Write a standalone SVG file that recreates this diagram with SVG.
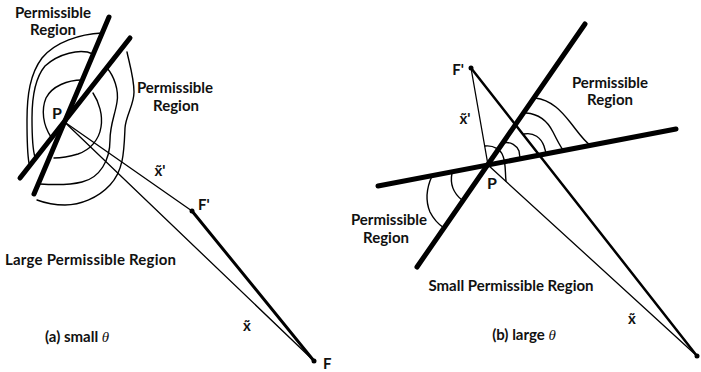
<svg xmlns="http://www.w3.org/2000/svg" width="701" height="372" viewBox="0 0 701 372">
<style>
.thick{stroke:#000;stroke-width:5;stroke-linecap:round;fill:none}
.med{stroke:#000;stroke-width:3;stroke-linecap:round;fill:none}
.thin{stroke:#000;stroke-width:1.3;stroke-linecap:round;fill:none}
.ct{stroke:#000;stroke-width:1.4;fill:none;stroke-linecap:round}
text{font-family:Lato,"Liberation Sans",sans-serif;font-size:15px;font-weight:700;fill:#111}
.c{text-anchor:middle}
.it{font-style:italic;font-family:"Liberation Serif",serif;font-weight:400}
</style>
<rect width="701" height="372" fill="#fff"/>
<g id="panel-a">
  <g id="contours-a">
    <path class="ct" d="M102,33 C80,34 55,42 42,58 C30,74 27,95 27,120 C27,140 27,152 29,163"/>
    <path class="ct" d="M93,54 C80,48 58,54 45,66 C35,78 32,95 32,118 C32,135 32,148 35,157"/>
    <path class="ct" d="M82,80 C68,80 52,86 46,98 C41,110 43,125 51,137"/>
    <path class="ct" d="M93,93 C99,102 103,115 101,127 C99,140 90,150 78,154 C68,157 60,158 54,158"/>
    <path class="ct" d="M107,68 C114,76 119,90 117,102 C115,115 110,125 110,140 C110,160 100,178 82,182 C70,185 55,185 40,184"/>
    <path class="ct" d="M127,52 C129,62 134,78 134,92 C134,105 126,115 125,128 C124,150 124,170 110,185 C98,198 80,205 65,205 C55,205 45,203 37,200"/>
  </g>
  <g id="connectors-a">
    <line class="thick" x1="109" y1="17" x2="34" y2="194"/>
    <line class="thick" x1="130" y1="38" x2="20" y2="178"/>
    <line class="thin" x1="64.5" y1="122" x2="192" y2="211"/>
    <line class="thin" x1="64.5" y1="122" x2="314" y2="361"/>
    <line class="med" x1="192" y1="211" x2="314" y2="361"/>
  </g>
  <g id="node-P-a"><text x="57" y="119" class="c" style="font-size:16px">P</text></g>
  <g id="node-Fp-a"><circle cx="192" cy="211" r="2.5"/><text x="198" y="210">F'</text></g>
  <g id="node-F-a"><circle cx="314" cy="361" r="2.5"/><text x="323" y="369">F</text></g>
  <text x="160" y="176" class="c">x̃'</text>
  <text x="247" y="331" class="c">x̃</text>
  <text x="53" y="18" class="c">Permissible</text>
  <text x="53" y="35" class="c">Region</text>
  <text x="175" y="93" class="c">Permissible</text>
  <text x="176" y="111" class="c">Region</text>
  <text x="5" y="265" textLength="171">Large Permissible Region</text>
  <text x="45" y="342">(a) small <tspan class="it">θ</tspan></text>
</g>
<g id="panel-b">
  <g id="contours-b">
    <path class="ct" d="M535,98 C552,100 562,112 570,122 C578,132 583,140 590,145"/>
    <path class="ct" d="M526,113 C540,114 548,122 553,132 C557,140 560,146 563,150"/>
    <path class="ct" d="M524,134 C534,132 541,138 544,146 C545,150 546,152 546,154"/>
    <path class="ct" d="M503,143 C511,141 517,146 519,151 L520,158"/>
    <path class="ct" d="M485,146 C494,145 501,150 503,156 C506,164 505,172 506,181"/>
    <path class="ct" d="M432,176 C427,187 425,200 430,212 C434,220 438,224 444,228"/>
    <path class="ct" d="M452,173 C450,183 452,192 462,200"/>
  </g>
  <g id="connectors-b">
    <line class="thick" x1="585" y1="24" x2="417" y2="267"/>
    <line class="thick" x1="378" y1="186" x2="676" y2="129"/>
    <line class="thin" x1="471" y1="68" x2="488" y2="165"/>
    <line class="thin" x1="488" y1="165" x2="697" y2="356"/>
    <line class="med" x1="471" y1="68" x2="697" y2="356" style="stroke-width:2.5"/>
  </g>
  <g id="node-P-b"><text x="492" y="189" class="c" style="font-size:16px">P</text></g>
  <g id="node-Fp-b"><circle cx="471" cy="68" r="2.5"/><text x="458" y="75" class="c">F'</text></g>
  <g id="node-F-b"><circle cx="697" cy="356" r="2.5"/></g>
  <text x="465" y="124" class="c">x̃'</text>
  <text x="632" y="324" class="c">x̃</text>
  <text x="610" y="88" class="c">Permissible</text>
  <text x="610" y="105" class="c">Region</text>
  <text x="389" y="225" class="c">Permissible</text>
  <text x="386" y="243" class="c">Region</text>
  <text x="511" y="291" class="c">Small Permissible Region</text>
  <text x="524" y="340" class="c">(b) large <tspan class="it">θ</tspan></text>
</g>
</svg>
